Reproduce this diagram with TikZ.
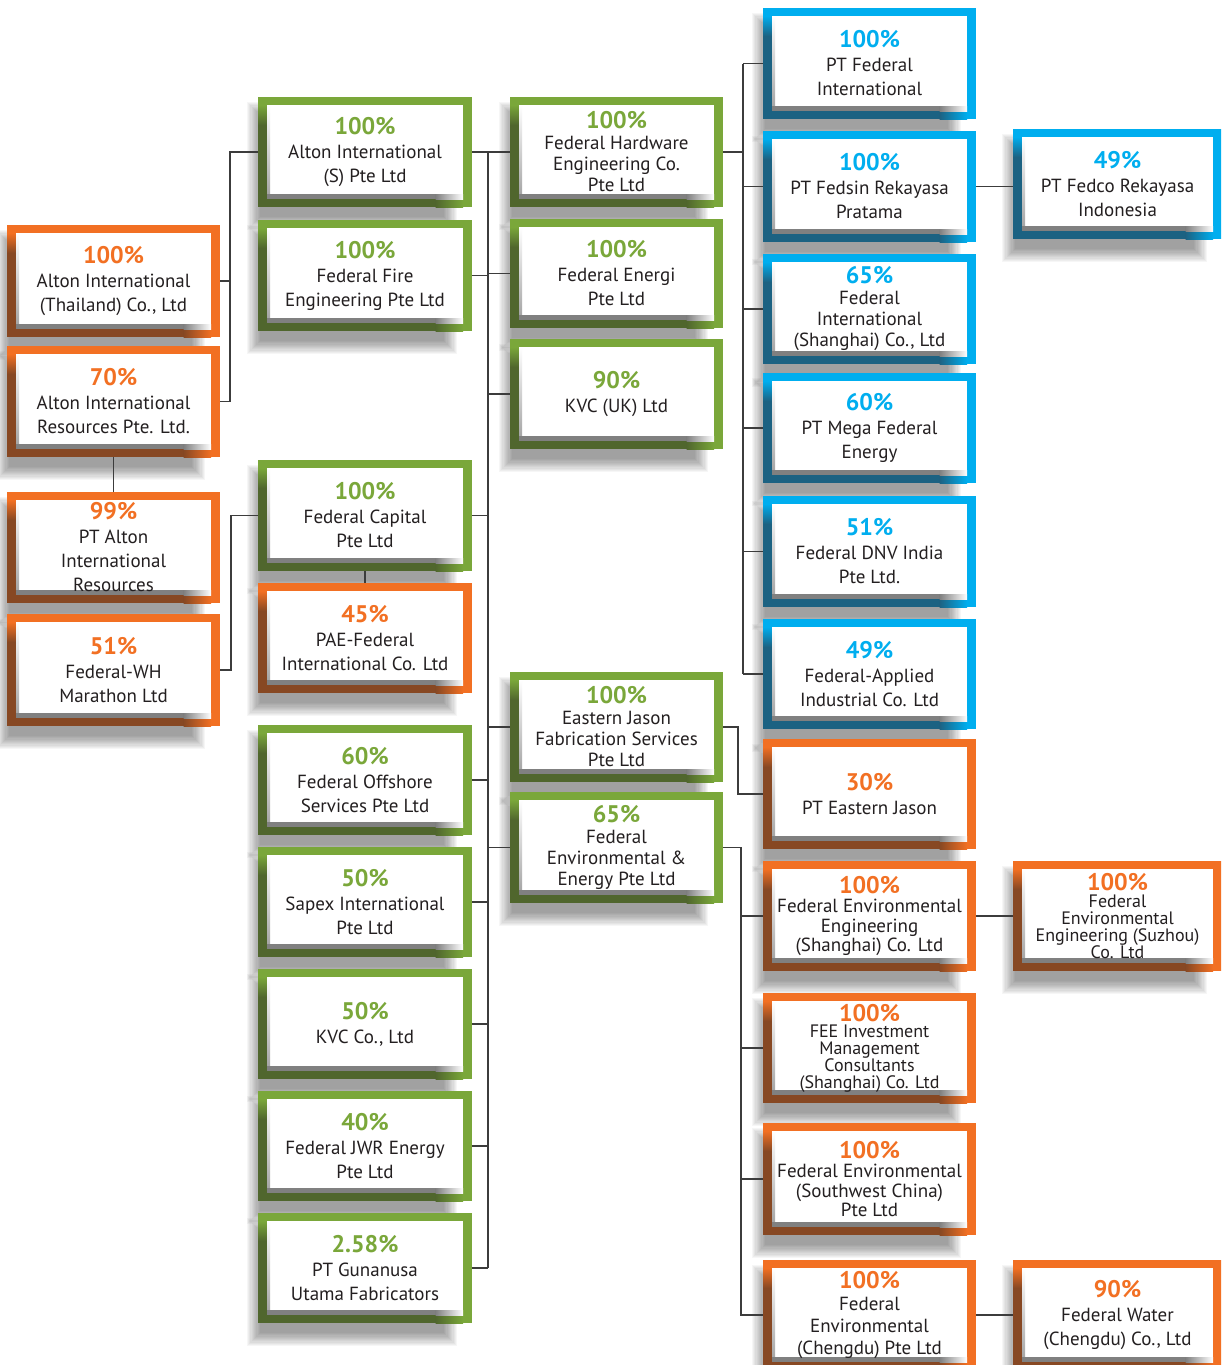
\documentclass[tikz,border=0pt]{standalone}
\usepackage{fontspec}
\setmainfont{PT Sans}
\usetikzlibrary{calc}
\definecolor{grn}{RGB}{122,167,58}
\definecolor{grnD}{RGB}{80,102,45}
\definecolor{org}{RGB}{242,112,35}
\definecolor{orgD}{RGB}{135,72,35}
\definecolor{blu}{RGB}{0,174,239}
\definecolor{bluD}{RGB}{28,98,130}
\definecolor{shd}{RGB}{128,128,128}
\definecolor{txt}{RGB}{35,31,32}
\definecolor{lnc}{RGB}{60,60,60}
\colorlet{boxc}{grn}
\newcommand\pcnt[1]{{\fontsize{12}{12}\selectfont\bfseries\color{boxc}#1}}
\tikzset{
  obox/.style={rectangle, inner sep=0pt, fill=#1, text=txt, align=center,
    path picture={
      \path (path picture bounding box.south west) coordinate (pSW)
            (path picture bounding box.north east) coordinate (pNE);
      \fill[#1D] (pSW) rectangle ($(pSW|-pNE)+(4.5pt,-14pt)$);
      \shade[top color=#1, bottom color=#1D] ($(pSW|-pNE)+(0,-4pt)$) rectangle ($(pSW|-pNE)+(4.5pt,-14pt)$);
      \fill[#1D] (pSW) rectangle ($(pNE|-pSW)+(-18pt,4pt)$);
      \shade[left color=#1D, right color=#1] ($(pNE|-pSW)+(-18.2pt,0)$) rectangle ($(pNE|-pSW)+(-4.5pt,4pt)$);
      \fill[white] ($(pSW)+(4.5pt,4pt)$) rectangle ($(pNE)+(-4.5pt,-4pt)$);
      \shade[top color=white, bottom color=shd!70] ($(pSW|-pNE)+(4.5pt,-4pt)$) rectangle ($(pSW)+(6pt,6.5pt)$);
      \fill[shd] ($(pSW)+(4.5pt,4pt)$) rectangle ($(pNE|-pSW)+(-18pt,6.5pt)$);
      \shade[left color=shd, right color=white] ($(pNE|-pSW)+(-18.2pt,4pt)$) rectangle ($(pNE|-pSW)+(-4.5pt,6.5pt)$);
    }},
  conn/.style={draw=lnc, line width=0.7pt}
}
% name, x1, y1, x2, y2, colour, font size, baselineskip, text
\newcommand\obox[9]{%
  \foreach \i in {0,...,11}{\fill[black,opacity=0.035] ({#2+2-1.2*\i},{#3+18-1.2*\i}) rectangle ({#4-28+1.2*\i},{#5+10+1.2*\i});}
  \pgfmathsetmacro\bw{(#4-#2)*0.5}\pgfmathsetmacro\bh{(#5-#3)*0.5}%
  \colorlet{boxc}{#6}%
  \node[obox=#6, minimum width=\bw pt, minimum height=\bh pt, font=\fontsize{#7}{#8}\selectfont] (#1) at ({(#2+#4)/2},{(#3+#5)/2}) {#9};
}
\begin{document}
\begin{tikzpicture}[x=0.5pt,y=-0.5pt]
\useasboundingbox (0,0) rectangle (1221,1365);
\clip (0,0) rectangle (1221,1365);
\fill[white] (0,0) rectangle (1221,1365);
% column 1
\obox{thai}{7}{225}{220}{337}{org}{9.5}{12}{\pcnt{100\%}\\Alton International\\(Thailand) Co., Ltd}
\obox{resources}{7}{346}{220}{457}{org}{9.5}{12}{\pcnt{70\%}\\Alton International\\Resources Pte. Ltd.}
\obox{ptalton}{7}{492}{220}{603}{org}{9.5}{12}{\pcnt{99\%}\\PT Alton\\International\\Resources}
\obox{wh}{7}{614}{220}{726}{org}{9.5}{12}{\pcnt{51\%}\\Federal-WH\\Marathon Ltd}
% column 2
\obox{altons}{258}{97}{472}{207}{grn}{9.5}{12}{\pcnt{100\%}\\Alton International\\(S) Pte Ltd}
\obox{fire}{258}{220}{472}{331}{grn}{9.5}{12}{\pcnt{100\%}\\Federal Fire\\Engineering Pte Ltd}
\obox{fedcap}{258}{460}{472}{571}{grn}{9.5}{12}{\pcnt{100\%}\\Federal Capital\\Pte Ltd}
\obox{pae}{258}{583}{472}{693}{org}{9.5}{12}{\pcnt{45\%}\\PAE-Federal\\International Co. Ltd}
\obox{offshore}{258}{725}{472}{835}{grn}{9.5}{12}{\pcnt{60\%}\\Federal Offshore\\Services Pte Ltd}
\obox{sapex}{258}{847}{472}{957}{grn}{9.5}{12}{\pcnt{50\%}\\Sapex International\\Pte Ltd}
\obox{kvc}{258}{969}{472}{1079}{grn}{9.5}{12}{\pcnt{50\%}\\KVC Co., Ltd}
\obox{jwr}{258}{1091}{472}{1201}{grn}{9.5}{12}{\pcnt{40\%}\\Federal JWR Energy\\Pte Ltd}
\obox{gun}{258}{1213}{472}{1323}{grn}{9.5}{12}{\pcnt{2.58\%}\\PT Gunanusa\\Utama Fabricators}
% column 3
\obox{hardware}{510}{97}{723}{207}{grn}{9.5}{10.5}{\pcnt{100\%}\\Federal Hardware\\Engineering Co.\\Pte Ltd}
\obox{energi}{510}{219}{723}{328}{grn}{9.5}{12}{\pcnt{100\%}\\Federal Energi\\Pte Ltd}
\obox{kvcuk}{510}{339}{723}{449}{grn}{9.5}{12}{\pcnt{90\%}\\KVC (UK) Ltd}
\obox{ej}{510}{672}{723}{782}{grn}{9.5}{10.5}{\pcnt{100\%}\\Eastern Jason\\Fabrication Services\\Pte Ltd}
\obox{feee}{510}{792}{723}{903}{grn}{9.5}{10.5}{\pcnt{65\%}\\Federal\\Environmental \&\\Energy Pte Ltd}
% column 4
\obox{ptfi}{763}{8}{976}{119}{blu}{9.5}{12}{\pcnt{100\%}\\PT Federal\\International}
\obox{fedsin}{763}{131}{976}{242}{blu}{9.5}{12}{\pcnt{100\%}\\PT Fedsin Rekayasa\\Pratama}
\obox{fish}{763}{254}{976}{364}{blu}{9.5}{10.5}{\pcnt{65\%}\\Federal\\International\\(Shanghai) Co., Ltd}
\obox{mega}{763}{373}{976}{483}{blu}{9.5}{12}{\pcnt{60\%}\\PT Mega Federal\\Energy}
\obox{dnv}{763}{496}{976}{607}{blu}{9.5}{12}{\pcnt{51\%}\\Federal DNV India\\Pte Ltd.}
\obox{applied}{763}{619}{976}{729}{blu}{9.5}{12}{\pcnt{49\%}\\Federal-Applied\\Industrial Co. Ltd}
\obox{ptej}{763}{739}{976}{849}{org}{9.5}{12}{\pcnt{30\%}\\PT Eastern Jason}
\obox{feesh}{763}{861}{976}{971}{org}{9.5}{9.6}{\pcnt{100\%}\\Federal Environmental\\Engineering\\(Shanghai) Co. Ltd}
\obox{feeinv}{763}{993}{976}{1103}{org}{9}{8.4}{\pcnt{100\%}\\FEE Investment\\Management\\Consultants\\(Shanghai) Co. Ltd}
\obox{southwest}{763}{1123}{976}{1235}{org}{9.5}{9.6}{\pcnt{100\%}\\Federal Environmental\\(Southwest China)\\Pte Ltd}
\obox{chengdu}{763}{1260}{976}{1370}{org}{9.5}{11}{\pcnt{100\%}\\Federal\\Environmental\\(Chengdu) Pte Ltd}
% column 5
\obox{fedco}{1013}{129}{1222}{239}{blu}{9.5}{12}{\pcnt{49\%}\\PT Fedco Rekayasa\\Indonesia}
\obox{suzhou}{1013}{861}{1222}{971}{org}{9}{8.4}{\pcnt{100\%}\\Federal\\Environmental\\Engineering (Suzhou)\\Co. Ltd}
\obox{water}{1013}{1260}{1222}{1370}{org}{9.5}{12}{\pcnt{90\%}\\Federal Water\\(Chengdu) Co., Ltd}
% spines
\coordinate (spA) at (230,0);
\coordinate (spB) at (231,0);
\coordinate (spC) at (488,0);
\coordinate (spD) at (743,0);
\coordinate (spE) at (738,0);
\coordinate (spF) at (741,0);
% connectors
\draw[conn] (altons.west) -- (altons.west -| spA) -- (resources.east -| spA) -- (resources.east);
\draw[conn] (thai.east) -- (thai.east -| spA);
\draw[conn] (resources.south) -- (ptalton.north);
\draw[conn] (fedcap.west) -- (fedcap.west -| spB) -- (wh.east -| spB) -- (wh.east);
\draw[conn] (fedcap.south) -- (pae.north);
\draw[conn] (altons.east -| spC) -- (gun.east -| spC);
\foreach \n in {altons,fire,fedcap,offshore,sapex,kvc,jwr,gun}
  \draw[conn] (\n.east) -- (\n.east -| spC);
\foreach \n in {hardware,energi,kvcuk,ej,feee}
  \draw[conn] (\n.west -| spC) -- (\n.west);
\draw[conn] (hardware.east) -- (hardware.east -| spD);
\draw[conn] (ptfi.west -| spD) -- (applied.west -| spD);
\foreach \n in {ptfi,fedsin,fish,mega,dnv,applied}
  \draw[conn] (\n.west -| spD) -- (\n.west);
\draw[conn] (ej.east) -- (ej.east -| spE) -- (ptej.west -| spE) -- (ptej.west);
\draw[conn] (feee.east) -- (feee.east -| spF) -- (chengdu.west -| spF) -- (chengdu.west);
\foreach \n in {feesh,feeinv,southwest}
  \draw[conn] (\n.west -| spF) -- (\n.west);
\draw[conn] (fedsin.east) -- (fedsin.east -| fedco.west);
\draw[conn] (feesh.east) -- (suzhou.west);
\draw[conn] (chengdu.east) -- (water.west);
\end{tikzpicture}
\end{document}
